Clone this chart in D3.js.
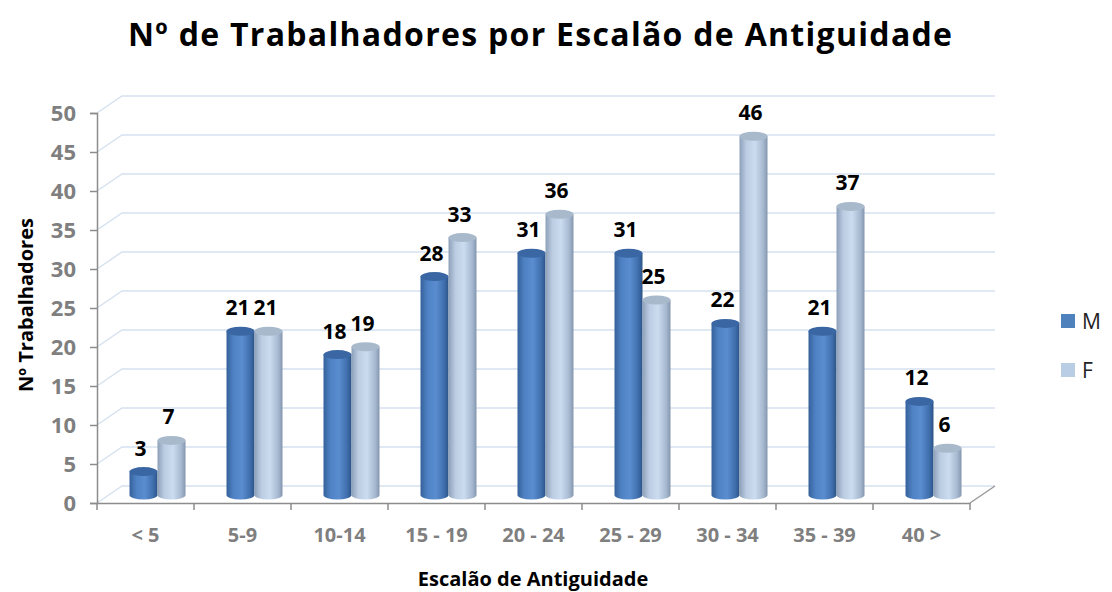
<!DOCTYPE html>
<html><head><meta charset="utf-8">
<script src="https://cdn.jsdelivr.net/npm/d3@7"></script>
<style>body{margin:0;background:#fff}svg{display:block}</style>
</head><body>
<script>
const categories = ["< 5","5-9","10-14","15 - 19","20 - 24","25 - 29","30 - 34","35 - 39","40 >"];
const seriesNames = ["M","F"];
const valuesM = [3,21,18,28,31,31,22,21,12];
const valuesF = [7,21,19,33,36,25,46,37,6];
const yTicks = [0,5,10,15,20,25,30,35,40,45,50];

const W=1112,H=592;
const svg=d3.select("body").append("svg").attr("width",W).attr("height",H);
const font="'Open Sans', 'Liberation Sans', sans-serif";
const x=d3.scaleBand().domain(categories).range([97,970]);
const y=d3.scaleLinear().domain([0,50]).range([503,113]);
const bdx=25,bdy=-17; // back wall offset
const mdx=12,mdy=-8;  // bar depth offset
const defs=svg.append("defs");
function grad(id,stops){const g=defs.append("linearGradient").attr("id",id).attr("x1","0").attr("x2","1").attr("y1","0").attr("y2","0");
 stops.forEach(s=>g.append("stop").attr("offset",s[0]).attr("stop-color",s[1]));}
grad("gM",[[0,"#35619a"],[0.25,"#4f82c4"],[0.55,"#5a8dd0"],[0.85,"#3f6eac"],[1,"#2c5388"]]);
grad("gF",[[0,"#8da0b8"],[0.25,"#bccde3"],[0.55,"#cbdcf0"],[0.85,"#a6b8cf"],[1,"#8496ad"]]);
const topM="#3a67a3", topF="#a9b9cc";

// gridlines
const grid=svg.append("g");
const xR=970;
yTicks.forEach(t=>{
 const yy=y(t);
 grid.append("path").attr("d",`M${97},${yy}L${97+bdx},${yy+bdy}L${xR+bdx},${yy+bdy}`)
  .attr("fill","none").attr("stroke","#d6e2ef").attr("stroke-width",1.5);
});
// floor
svg.append("path").attr("d",`M${xR},${y(0)}L${xR+bdx},${y(0)+bdy}`).attr("stroke","#9a9a9a").attr("stroke-width",1.5).attr("fill","none");

// y axis
const yAx=svg.append("g").attr("transform","translate(97,0)")
 .call(d3.axisLeft(y).tickValues(yTicks).tickSize(7).tickPadding(14));
yAx.select(".domain").attr("stroke","#8c8c8c").attr("stroke-width",1.5);
yAx.selectAll(".tick line").attr("stroke","#8c8c8c").attr("stroke-width",1.5);
yAx.selectAll("text").attr("font-family",font).attr("font-size",22).attr("font-weight","bold").attr("fill","#7f7f7f");

// x axis
const xAx=svg.append("g").attr("transform",`translate(0,${y(0)})`)
 .call(d3.axisBottom(x).tickSize(0).tickPadding(25));
xAx.select(".domain").attr("stroke","#8c8c8c").attr("stroke-width",1.5);
xAx.selectAll("text").attr("font-family",font).attr("font-size",20).attr("font-weight","bold").attr("fill","#7f7f7f");
const xt=[...categories.map(c=>x(c)),970];
svg.append("g").selectAll("line").data(xt).join("line")
 .attr("x1",d=>d).attr("x2",d=>d).attr("y1",y(0)).attr("y2",y(0)+7)
 .attr("stroke","#8c8c8c").attr("stroke-width",1.5);

// bars
const bw=28, ry=4.5;
function cyl(g,cx,val,fill,topFill){
 const yt=y(val)+mdy, yb=y(0)+mdy, l=cx-bw/2, r=cx+bw/2;
 g.append("path").attr("d",`M${l},${yt}L${l},${yb}A${bw/2},${ry} 0 0 0 ${r},${yb}L${r},${yt}Z`).attr("fill",fill);
 g.append("ellipse").attr("cx",cx).attr("cy",yt).attr("rx",bw/2).attr("ry",ry).attr("fill",topFill);
 return yt;
}
const bars=svg.append("g"), labels=svg.append("g");
categories.forEach((c,i)=>{
 const split=x(c)+x.bandwidth()/2+mdx;
 const cM=split-bw/2, cF=split+bw/2;
 const tM=cyl(bars,cM,valuesM[i],"url(#gM)",topM);
 const tF=cyl(bars,cF,valuesF[i],"url(#gF)",topF);
 [[cM,tM,valuesM[i]],[cF,tF,valuesF[i]]].forEach(([cx,t,v])=>{
  labels.append("text").attr("x",cx-3).attr("y",t-16).attr("text-anchor","middle")
   .attr("font-family",font).attr("font-size",21).attr("font-weight","bold").attr("fill","#000").text(v);
 });
});

// titles
svg.append("text").attr("x",540).attr("y",46).attr("text-anchor","middle").attr("font-family",font)
 .attr("font-size",32).attr("font-weight","bold").attr("fill","#000")
 .attr("textLength",824).attr("lengthAdjust","spacing").text("Nº de Trabalhadores por Escalão de Antiguidade");
svg.append("text").attr("transform","translate(33,305) rotate(-90)").attr("text-anchor","middle").attr("font-family",font)
 .attr("font-size",20).attr("font-weight","bold").attr("fill","#000").text("Nº Trabalhadores");
svg.append("text").attr("x",533).attr("y",586).attr("text-anchor","middle").attr("font-family",font)
 .attr("font-size",20).attr("font-weight","bold").attr("fill","#000").text("Escalão de Antiguidade");

// legend
const legColors=["#4f81bd","#b9cde5"];
const leg=svg.append("g");
seriesNames.forEach((s,i)=>{
 const ly=321+i*49;
 leg.append("rect").attr("x",1061).attr("y",ly-7).attr("width",14).attr("height",14).attr("fill",legColors[i]);
 leg.append("text").attr("x",1082).attr("y",ly+8).attr("font-family",font).attr("font-size",21).attr("fill","#222").text(s);
});
</script>
</body></html>
